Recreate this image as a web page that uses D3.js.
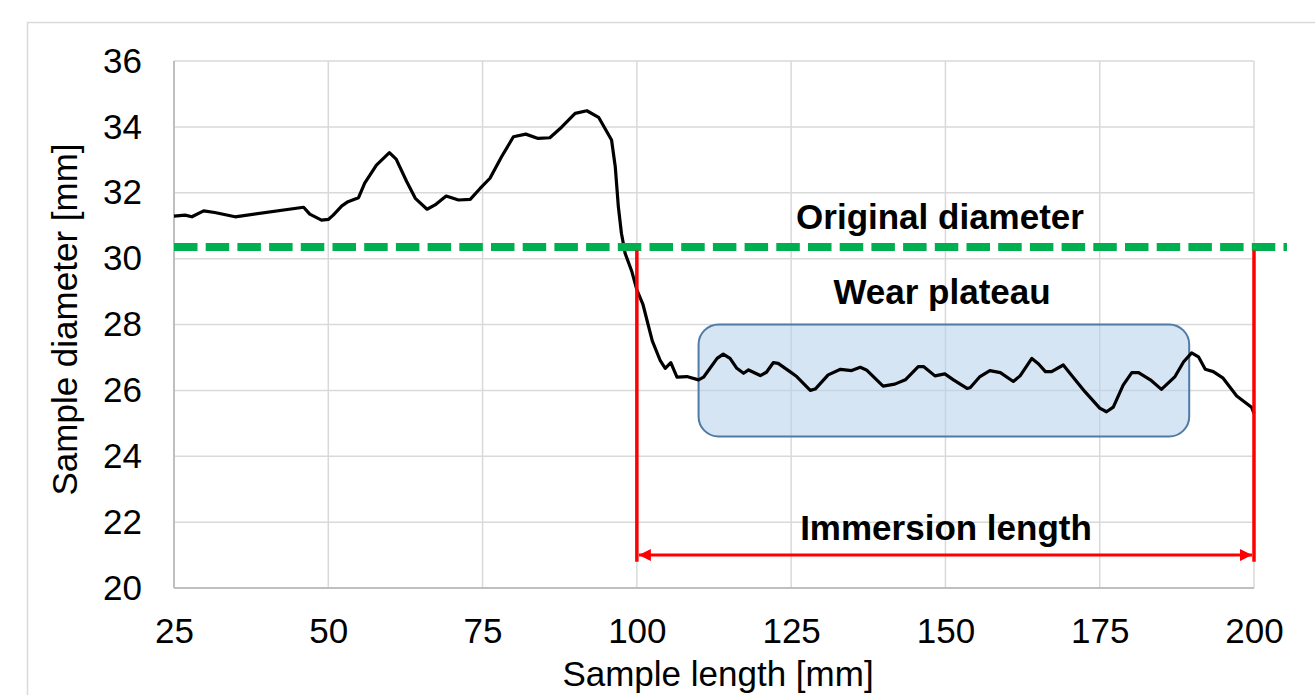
<!DOCTYPE html>
<html>
<head>
    <title>Sample diameter along sample length</title>
    <script src="https://d3js.org/d3.v7.min.js"></script>
    <style>
        body { margin: 0; background: #fff; }
        text { font-family: "Liberation Sans", Arial, sans-serif; }
    </style>
</head>
<body>
    <svg id="chart"></svg>

    <script>
        const lengthMm = [25, 26.8, 27.9, 29.8, 31.6, 34.9, 46, 47, 48.9, 50, 50.8, 52.2, 53.2, 54.9, 55.9,
            57.8, 59.9, 61, 62.7, 64.1, 66, 67.3, 69.1, 71.1, 73, 74.6, 76.2, 78.1, 80, 82, 84, 85.9,
            87.8, 90, 91.9, 93.8, 95.9, 96.5, 97, 97.5, 98.1, 99.2, 100, 101, 102.5, 103.8, 104.6,
            105.5, 106.5, 108.1, 110, 110.8, 113, 114, 115.1, 116.2, 117.3, 118.1, 120, 121, 122.1,
            122.9, 124.8, 125.9, 128.1, 128.9, 131, 133, 134.8, 136.2, 137.2, 139.9, 141.8, 143.5,
            145.6, 146.5, 148.3, 149.9, 151.3, 153.5, 154, 155.6, 157.2, 158.9, 161, 162.1, 164,
            165.1, 166.2, 167.2, 169.1, 170.4, 172.6, 175, 176.1, 177.2, 178.8, 180.2, 181.3, 183.2,
            185, 187.2, 188.6, 189.9, 191, 192.1, 193.4, 195, 197.2, 199.6, 200];
        const diameterMm = [31.29, 31.32, 31.27, 31.45, 31.4, 31.27, 31.56, 31.35, 31.17, 31.19, 31.32,
            31.6, 31.73, 31.85, 32.29, 32.84, 33.22, 33.02, 32.34, 31.83, 31.5, 31.63, 31.9, 31.78,
            31.8, 32.13, 32.44, 33.1, 33.7, 33.78, 33.65, 33.67, 33.99, 34.41, 34.49, 34.29, 33.6,
            32.79, 31.58, 30.77, 30.16, 29.6, 29.05, 28.6, 27.5, 26.9, 26.67, 26.84, 26.4, 26.42,
            26.32, 26.4, 26.97, 27.1, 26.97, 26.67, 26.52, 26.62, 26.45, 26.55, 26.84, 26.82, 26.57,
            26.42, 26.0, 26.04, 26.47, 26.64, 26.6, 26.7, 26.62, 26.13, 26.19, 26.32, 26.72, 26.72,
            26.44, 26.5, 26.32, 26.06, 26.08, 26.42, 26.6, 26.54, 26.27, 26.44, 26.97, 26.8, 26.57,
            26.57, 26.77, 26.47, 25.96, 25.46, 25.35, 25.49, 26.16, 26.54, 26.54, 26.32, 26.03,
            26.42, 26.87, 27.14, 27.02, 26.64, 26.57, 26.37, 25.83, 25.49, 25.3];

        // Axis ticks
        const xTicks = [25, 50, 75, 100, 125, 150, 175, 200];
        const yTicks = [20, 22, 24, 26, 28, 30, 32, 34, 36];

        // Annotations (data units)
        const originalDiameter = 30.35;
        const immersionStart = 100;
        const immersionEnd = 200;
        const plateauX = [110, 189.5];
        const plateauY = [24.6, 28];

        const width = 1315;
        const height = 695;
        const margin = { top: 61, right: 61, bottom: 107, left: 174 };

        const svg = d3.select('#chart')
            .attr('width', width)
            .attr('height', height);

        const x = d3.scaleLinear()
            .domain([25, 200])
            .range([margin.left, width - margin.right]);

        const y = d3.scaleLinear()
            .domain([20, 36])
            .range([height - margin.bottom, margin.top]);

        // chart frame
        svg.append('rect')
            .attr('x', 27.5).attr('y', 22.5)
            .attr('width', 1400).attr('height', 800)
            .attr('fill', 'none')
            .attr('stroke', '#d9d9d9')
            .attr('stroke-width', 1.5);

        // gridlines
        svg.append('g')
            .selectAll('line')
            .data(yTicks)
            .join('line')
            .attr('x1', x(25)).attr('x2', x(200))
            .attr('y1', d => y(d)).attr('y2', d => y(d))
            .attr('stroke', '#d9d9d9')
            .attr('stroke-width', 1.5);

        svg.append('g')
            .selectAll('line')
            .data(xTicks)
            .join('line')
            .attr('x1', d => x(d)).attr('x2', d => x(d))
            .attr('y1', y(20)).attr('y2', y(36))
            .attr('stroke', '#d9d9d9')
            .attr('stroke-width', 1.5);

        // axis lines
        svg.append('line')
            .attr('x1', x(25)).attr('x2', x(25))
            .attr('y1', y(20)).attr('y2', y(36))
            .attr('stroke', '#bfbfbf').attr('stroke-width', 2);
        svg.append('line')
            .attr('x1', x(25)).attr('x2', x(200))
            .attr('y1', y(20)).attr('y2', y(20))
            .attr('stroke', '#bfbfbf').attr('stroke-width', 2);

        // tick labels via axes
        const xAxis = svg.append('g')
            .attr('transform', `translate(0,${y(20)})`)
            .call(d3.axisBottom(x).tickValues(xTicks).tickSize(0).tickPadding(30));
        const yAxis = svg.append('g')
            .attr('transform', `translate(${x(25)},0)`)
            .call(d3.axisLeft(y).tickValues(yTicks).tickSize(0).tickPadding(32));
        [xAxis, yAxis].forEach(a => {
            a.select('.domain').remove();
            a.selectAll('text')
                .attr('font-family', '"Liberation Sans", Arial, sans-serif')
                .attr('font-size', 35)
                .attr('fill', '#000');
        });

        // axis titles
        svg.append('text')
            .attr('x', (x(25) + x(200)) / 2 + 4)
            .attr('y', 686)
            .attr('text-anchor', 'middle')
            .attr('font-size', 35)
            .text('Sample length [mm]');

        svg.append('text')
            .attr('transform', `translate(77,${(y(20) + y(36)) / 2 - 5}) rotate(-90)`)
            .attr('text-anchor', 'middle')
            .attr('font-size', 35)
            .text('Sample diameter [mm]');

        // wear plateau box
        svg.append('rect')
            .attr('x', x(plateauX[0]))
            .attr('y', y(plateauY[1]))
            .attr('width', x(plateauX[1]) - x(plateauX[0]))
            .attr('height', y(plateauY[0]) - y(plateauY[1]))
            .attr('rx', 20).attr('ry', 20)
            .attr('fill', 'rgb(180,208,235)')
            .attr('fill-opacity', 0.55)
            .attr('stroke', '#4f7ba6')
            .attr('stroke-width', 2);

        // profile line
        const pts = lengthMm.map((d, i) => [d, diameterMm[i]]);
        svg.append('path')
            .datum(pts)
            .attr('fill', 'none')
            .attr('stroke', '#000')
            .attr('stroke-width', 3.2)
            .attr('stroke-linejoin', 'round')
            .attr('d', d3.line().x(d => x(d[0])).y(d => y(d[1])));

        // original diameter
        svg.append('line')
            .attr('x1', x(25)).attr('x2', 1287)
            .attr('y1', y(originalDiameter)).attr('y2', y(originalDiameter))
            .attr('stroke', '#00b050')
            .attr('stroke-width', 8)
            .attr('stroke-dasharray', '23.5,8.2');

        // immersion length markers
        const red = '#ff0000';
        [immersionStart, immersionEnd].forEach(v => {
            svg.append('line')
                .attr('x1', x(v)).attr('x2', x(v))
                .attr('y1', y(30.25)).attr('y2', y(20.8))
                .attr('stroke', red).attr('stroke-width', 3.5);
        });

        const defs = svg.append('defs');
        defs.append('marker')
            .attr('id', 'arrow')
            .attr('viewBox', '0 0 10 10')
            .attr('refX', 10).attr('refY', 5)
            .attr('markerWidth', 7).attr('markerHeight', 4)
            .attr('markerUnits', 'strokeWidth')
            .attr('orient', 'auto-start-reverse')
            .append('path')
            .attr('d', 'M0,0L10,5L0,10Z')
            .attr('fill', red);

        svg.append('line')
            .attr('x1', x(immersionStart) + 2).attr('x2', x(immersionEnd) - 2)
            .attr('y1', y(21)).attr('y2', y(21))
            .attr('stroke', red).attr('stroke-width', 3)
            .attr('marker-start', 'url(#arrow)')
            .attr('marker-end', 'url(#arrow)');

        // labels
        const labels = [
            { text: 'Original diameter', x: 940, y: 229 },
            { text: 'Wear plateau', x: 942, y: 304 },
            { text: 'Immersion length', x: 946, y: 540 }
        ];
        svg.selectAll('.label')
            .data(labels)
            .join('text')
            .attr('class', 'label')
            .attr('x', d => d.x)
            .attr('y', d => d.y)
            .attr('text-anchor', 'middle')
            .attr('font-size', 35)
            .attr('font-weight', 'bold')
            .text(d => d.text);
    </script>
</body>
</html>
